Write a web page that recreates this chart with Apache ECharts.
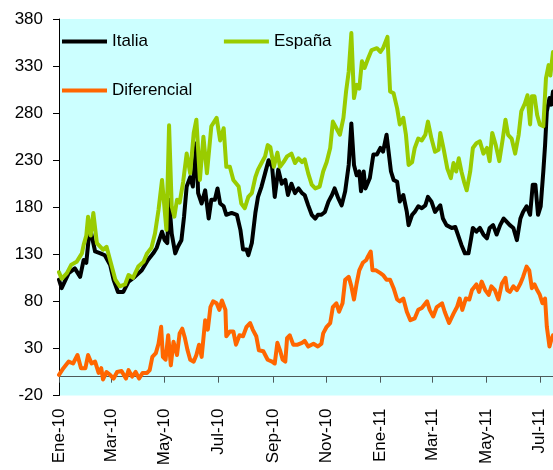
<!DOCTYPE html>
<html>
<head>
<meta charset="utf-8">
<script src="https://cdn.jsdelivr.net/npm/echarts@6/dist/echarts.min.js"></script>
<style>
  html, body { margin: 0; padding: 0; background: #ffffff; }
  #chart { width: 553px; height: 470px; }
</style>
</head>
<body>
<div id="chart"></div>
<script>
// Day offsets are counted from 1 Jan 2010.
const italia = [[0,103],[3,94],[11,110],[18,115],[24,106],[28,124],[31,121],[35,159],[41,133],[47,131],[52,129],[58,119],[62,103],[67,90],[73,90],[79,101],[86,106],[94,113],[101,124],[107,131],[111,137],[117,154],[120,145],[123,142],[125,188],[128,152],[132,131],[135,138],[139,145],[142,170],[145,202],[149,212],[152,202],[156,248],[158,195],[162,184],[166,198],[170,168],[173,188],[177,188],[180,200],[183,184],[187,181],[190,172],[196,174],[202,172],[206,156],[209,135],[213,135],[215,129],[219,142],[223,174],[226,191],[230,202],[234,216],[238,230],[242,223],[245,191],[249,220],[253,205],[257,209],[260,193],[264,205],[268,195],[272,200],[276,195],[279,193],[283,182],[287,172],[291,168],[294,172],[298,172],[302,175],[306,186],[310,193],[313,200],[317,190],[321,182],[325,197],[329,225],[332,269],[335,225],[338,214],[341,218],[343,197],[346,218],[348,200],[353,211],[357,236],[361,236],[365,243],[368,239],[372,257],[374,259],[377,218],[380,209],[384,207],[387,186],[391,193],[395,175],[397,161],[401,172],[404,175],[408,181],[412,179],[416,182],[419,191],[423,186],[427,175],[433,182],[436,168],[440,161],[446,158],[450,159],[453,151],[457,140],[461,131],[465,131],[468,147],[470,158],[474,154],[478,158],[482,151],[486,147],[489,158],[493,161],[497,151],[501,161],[505,168],[508,165],[512,161],[516,158],[520,145],[524,168],[527,175],[531,181],[535,172],[538,204],[541,204],[544,172],[547,181],[550,218],[552,246],[554,282],[557,296],[559,289],[561,303]];

const espana = [[0,111],[3,104],[9,110],[14,119],[20,122],[26,131],[28,140],[31,150],[33,170],[36,150],[39,174],[43,142],[47,138],[50,135],[54,138],[58,124],[64,103],[69,96],[75,98],[79,108],[84,105],[90,117],[96,122],[100,131],[105,137],[109,152],[113,177],[117,209],[120,177],[122,156],[125,267],[128,181],[131,170],[134,188],[137,185],[141,207],[145,237],[149,216],[153,259],[156,273],[160,209],[164,255],[168,216],[173,266],[179,275],[183,251],[187,264],[190,223],[194,223],[198,209],[204,202],[207,184],[211,179],[215,191],[219,195],[223,212],[226,220],[230,227],[234,234],[237,246],[240,244],[244,223],[248,238],[251,223],[255,228],[259,234],[264,237],[268,227],[272,232],[276,228],[279,231],[283,216],[287,204],[291,200],[296,202],[300,218],[304,228],[308,243],[311,271],[315,264],[319,257],[323,275],[326,303],[329,324],[332,365],[335,296],[338,310],[341,306],[344,335],[347,328],[351,338],[355,347],[361,349],[365,345],[368,349],[373,361],[376,303],[380,301],[384,285],[387,268],[391,275],[394,257],[397,225],[401,228],[404,243],[408,253],[412,251],[416,257],[419,271],[423,253],[427,239],[431,241],[433,259],[437,241],[441,221],[445,211],[448,227],[451,218],[454,232],[457,218],[460,207],[463,198],[467,218],[470,243],[474,248],[478,250],[482,237],[486,243],[489,229],[492,259],[496,246],[500,229],[504,253],[507,273],[510,257],[514,253],[518,237],[522,257],[525,282],[529,290],[532,299],[535,268],[537,298],[540,298],[543,278],[546,268],[550,266],[553,317],[556,331],[558,320],[561,345]];

const diferencial = [[0,2],[5,9],[11,16],[16,14],[21,23],[25,9],[30,9],[33,23],[37,14],[41,16],[45,4],[48,9],[50,-3],[54,5],[58,2],[62,-2],[66,5],[71,6],[76,-2],[79,7],[83,0],[87,5],[91,-2],[95,4],[100,4],[103,7],[106,21],[110,25],[113,35],[116,53],[118,21],[121,18],[124,44],[127,12],[130,37],[134,23],[137,46],[140,51],[143,41],[146,28],[149,18],[153,16],[156,23],[159,34],[162,21],[166,60],[169,50],[172,74],[175,80],[179,78],[182,71],[185,81],[189,71],[190,43],[194,48],[198,48],[201,34],[205,44],[209,43],[213,53],[217,57],[220,50],[224,43],[227,28],[232,27],[237,18],[242,16],[245,14],[248,36],[251,28],[254,18],[257,16],[259,41],[262,44],[266,34],[271,34],[276,36],[279,38],[283,32],[289,35],[294,32],[298,35],[300,46],[304,53],[308,57],[311,74],[315,78],[318,69],[322,78],[325,103],[329,106],[332,96],[335,82],[338,99],[341,113],[345,121],[349,124],[351,128],[354,133],[356,113],[360,113],[365,110],[368,108],[372,103],[376,103],[380,94],[384,82],[387,80],[391,83],[395,69],[399,60],[404,62],[408,71],[412,73],[418,80],[421,71],[425,64],[429,74],[435,78],[438,69],[443,57],[448,67],[452,74],[455,83],[458,71],[462,83],[466,82],[469,92],[474,98],[477,90],[480,101],[484,92],[488,87],[491,96],[495,92],[499,82],[503,99],[507,105],[509,92],[512,90],[516,96],[520,92],[524,99],[527,106],[531,117],[534,113],[537,94],[540,98],[543,92],[546,87],[549,78],[552,83],[554,53],[557,32],[559,39],[561,44]];

// First day of every second month, with its label.
const monthTicks = [0, 59, 120, 181, 243, 304, 365, 424, 485, 546];
const monthLabels = ['Ene-10', 'Mar-10', 'May-10', 'Jul-10', 'Sep-10', 'Nov-10', 'Ene-11', 'Mar-11', 'May-11', 'Jul-11'];

const FONT = '"Liberation Sans", Arial, sans-serif';
const chart = echarts.init(document.getElementById('chart'), null, { renderer: 'canvas' });

const lineSeries = (name, data, color) => ({
  name, type: 'line', data,
  xAxisIndex: 0, yAxisIndex: 0,
  showSymbol: false, symbol: 'none',
  lineStyle: { color, width: 4, cap: 'round', join: 'round' },
  itemStyle: { color },
  animation: false
});

const legendBase = {
  left: 62, padding: 0, orient: 'horizontal',
  icon: 'rect', itemWidth: 45, itemHeight: 4,
  textStyle: { fontFamily: FONT, fontSize: 17, color: '#000' }
};

chart.setOption({
  animation: false,
  grid: {
    left: 59, top: 19, right: 0, bottom: 74.5,
    show: true, backgroundColor: '#ccffff', borderWidth: 0
  },
  legend: [
    Object.assign({}, legendBase, { data: ['Italia', 'España'], top: 33, itemGap: 76 }),
    Object.assign({}, legendBase, { data: ['Diferencial'], top: 82 })
  ],
  xAxis: [
    {
      type: 'value', min: 0, max: 561, position: 'bottom',
      axisLine: { show: false, onZero: false },
      axisTick: { show: false },
      splitLine: { show: false },
      axisLabel: {
        customValues: monthTicks,
        rotate: 90, margin: 13,
        fontFamily: FONT, fontSize: 17, color: '#000',
        formatter: v => monthLabels[monthTicks.indexOf(v)] || ''
      }
    },
    {
      type: 'value', min: 0, max: 561, position: 'bottom',
      axisLine: { show: true, onZero: true, lineStyle: { color: '#4d5a5a', width: 1 } },
      axisTick: { show: true, customValues: monthTicks, inside: false, length: 6, lineStyle: { color: '#4d5a5a' } },
      axisLabel: { show: false },
      splitLine: { show: false }
    }
  ],
  yAxis: {
    type: 'value', min: -20, max: 380, interval: 50,
    axisLine: { show: true, lineStyle: { color: '#000', width: 1 } },
    axisTick: { show: true, length: 6, lineStyle: { color: '#000' } },
    splitLine: { show: false },
    axisLabel: { margin: 16, fontFamily: FONT, fontSize: 17, color: '#000' }
  },
  series: [
    lineSeries('Italia', italia, '#000000'),
    lineSeries('España', espana, '#99cc00'),
    lineSeries('Diferencial', diferencial, '#ff6600')
  ]
});
</script>
</body>
</html>
